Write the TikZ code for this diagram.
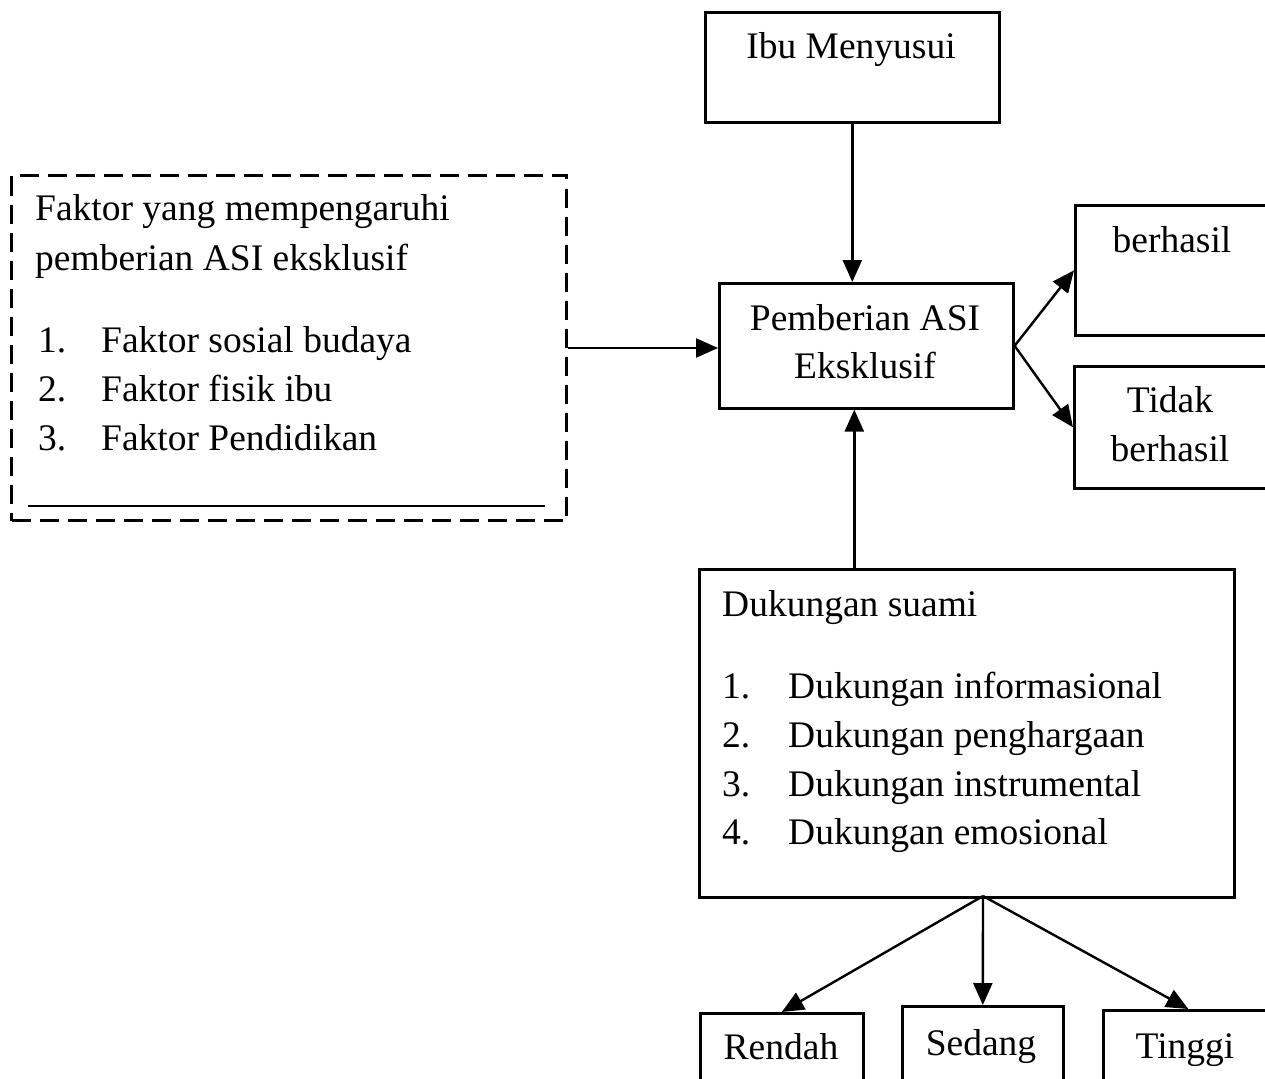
\documentclass[tikz,border=0pt]{standalone}
\usepackage{fontspec}
\setmainfont{Liberation Serif}
\usetikzlibrary{arrows.meta}
\tikzset{
  box/.style={draw, line width=2.6pt, anchor=north west, inner sep=0pt},
  dbox/.style={draw, line width=3pt, dash pattern=on 19pt off 9pt, anchor=north west, inner sep=0pt},
  txt/.style={inner sep=0pt, font=\fontsize{37.5}{49}\selectfont},
  arr/.style={line width=2.4pt, -{Triangle[length=22pt,width=19pt]}}
}
\begin{document}
\begin{tikzpicture}[x=1pt,y=-1pt]
\useasboundingbox (0,0) rectangle (1265,1078);
\clip (0,0) rectangle (1265,1078);
\fill[white] (0,0) rectangle (1265,1078);
% boxes
\node[box, minimum width=294pt, minimum height=110pt] (ibu) at (704,11) {};
\node[box, minimum width=294pt, minimum height=125pt] (pem) at (718,282) {};
\node[dbox, minimum width=555pt, minimum height=345pt] (fak) at (10,174) {};
\node[box, minimum width=200pt, minimum height=130pt] (ber) at (1074,204) {};
\node[box, minimum width=200pt, minimum height=122pt] (tid) at (1073,365) {};
\node[box, minimum width=535pt, minimum height=328pt] (duk) at (698,568) {};
\node[box, minimum width=163pt, minimum height=90pt] (ren) at (699,1012) {};
\node[box, minimum width=161pt, minimum height=90pt] (sed) at (901,1005) {};
\node[box, minimum width=170pt, minimum height=90pt] (tin) at (1102,1009) {};
% inner line of dashed box
\coordinate (ul1) at (28,506);
\coordinate (ul2) at (545,506);
\draw[line width=2.2pt] (ul1) -- (ul2);
% texts
\node[txt, anchor=base] (tibu) at (851,59) {Ibu Menyusui};
\node[txt, anchor=base] (tpem1) at (865,330) {Pemberian ASI};
\node[txt, anchor=base] (tpem2) at (865,378) {Eksklusif};
\node[txt, anchor=base] (tber) at (1172,252) {berhasil};
\node[txt, anchor=base] (ttid1) at (1170,412) {Tidak};
\node[txt, anchor=base] (ttid2) at (1170,461) {berhasil};
\node[txt, anchor=base west] (tf0) at (35,220) {Faktor yang mempengaruhi};
\node[txt, anchor=base west] (tf1) at (35,270) {pemberian ASI eksklusif};
\node[txt, anchor=base west] (nf1) at (38,352) {1.};
\node[txt, anchor=base west] (nf2) at (38,401) {2.};
\node[txt, anchor=base west] (nf3) at (38,450) {3.};
\node[txt, anchor=base west] (lf1) at (101,352) {Faktor sosial budaya};
\node[txt, anchor=base west] (lf2) at (101,401) {Faktor fisik ibu};
\node[txt, anchor=base west] (lf3) at (101,450) {Faktor Pendidikan};
\node[txt, anchor=base west] (td0) at (722,616) {Dukungan suami};
\node[txt, anchor=base west] (nd1) at (722,698) {1.};
\node[txt, anchor=base west] (nd2) at (722,747) {2.};
\node[txt, anchor=base west] (nd3) at (722,796) {3.};
\node[txt, anchor=base west] (nd4) at (722,844) {4.};
\node[txt, anchor=base west] (ld1) at (788,698) {Dukungan informasional};
\node[txt, anchor=base west] (ld2) at (788,747) {Dukungan penghargaan};
\node[txt, anchor=base west] (ld3) at (788,796) {Dukungan instrumental};
\node[txt, anchor=base west] (ld4) at (788,844) {Dukungan emosional};
\node[txt, anchor=base] (tren) at (781,1059) {Rendah};
\node[txt, anchor=base] (tsed) at (981,1055) {Sedang};
\node[txt, anchor=base] (ttin) at (1185,1058) {Tinggi};
% connectors
\draw[arr] (ibu.south) -- (ibu.south |- pem.north);
\draw[arr] (fak.east) -- (fak.east -| pem.west);
\draw[arr] (pem.east) -- (ber.west);
\draw[arr] (pem.east) -- (tid.west);
\draw[arr] ([xshift=2pt]ibu.south |- duk.north) -- ([xshift=2pt]ibu.south |- pem.south);
\coordinate (br) at (983,896);
\draw[arr] (br) -- (ren.north);
\draw[arr] (br) -- (sed.north);
\draw[arr] (br) -- (tin.north);
\end{tikzpicture}
\end{document}
